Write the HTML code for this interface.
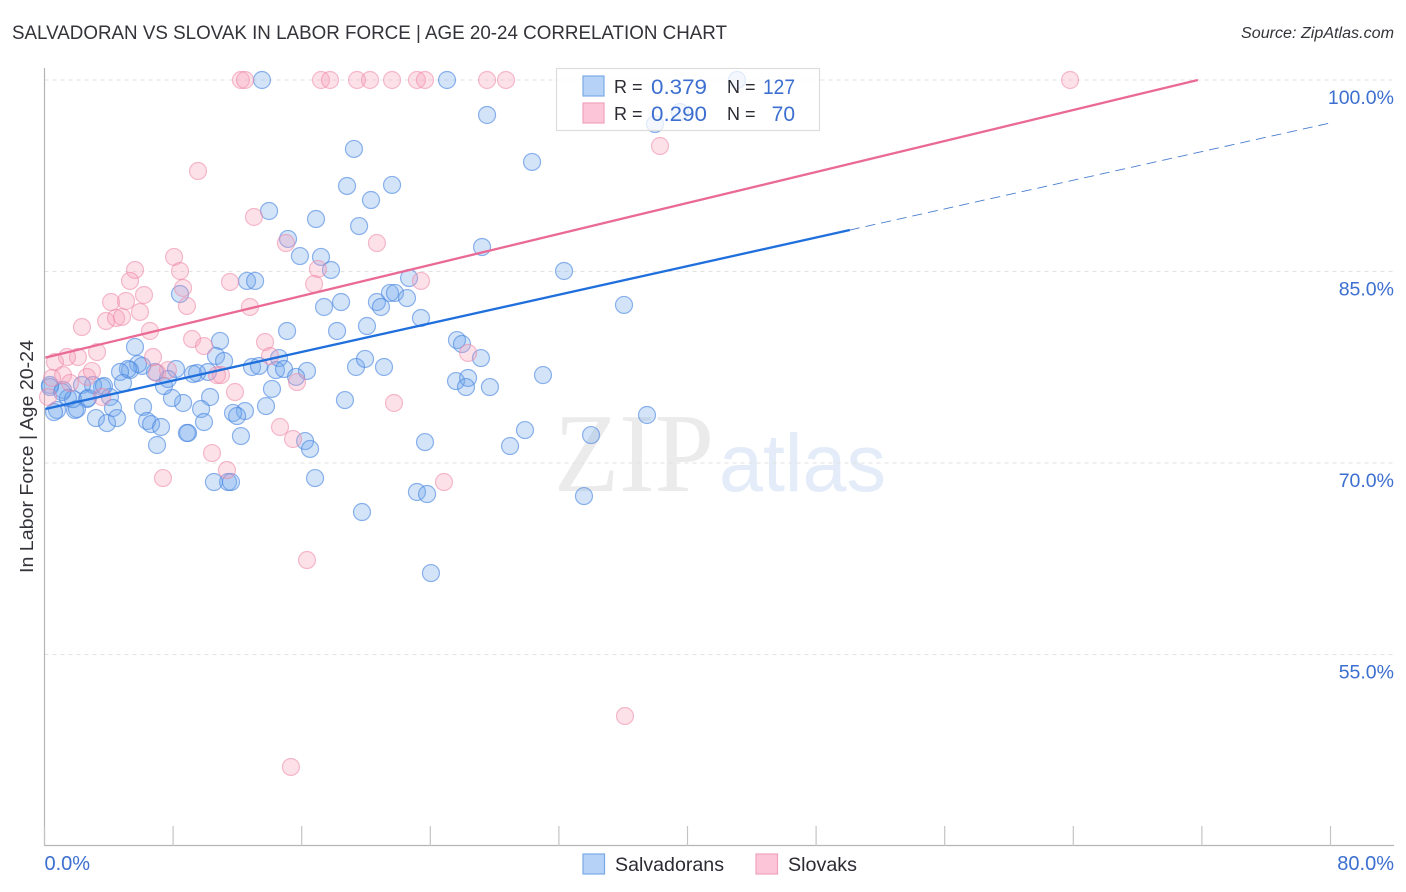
<!DOCTYPE html>
<html lang="en">
<head>
<meta charset="utf-8">
<title>Salvadoran vs Slovak in Labor Force | Age 20-24 Correlation Chart</title>
<style>
html,body{margin:0;padding:0;background:#fff;width:1406px;height:892px;overflow:hidden}
svg{display:block;font-family:"Liberation Sans",sans-serif}
</style>
</head>
<body>
<svg id="chart" width="1406" height="892" viewBox="0 0 1406 892" xmlns="http://www.w3.org/2000/svg">
  <text x="12" y="39" font-size="19.5" fill="#33333a" textLength="715" lengthAdjust="spacingAndGlyphs">SALVADORAN VS SLOVAK IN LABOR FORCE | AGE 20-24 CORRELATION CHART</text>
  <text x="1241" y="38" font-size="15.5" font-style="italic" fill="#33333a" textLength="153" lengthAdjust="spacingAndGlyphs">Source: ZipAtlas.com</text>
  <text x="554" y="491" font-family="'Liberation Serif',serif" font-size="112" fill="#ebebeb" textLength="160" lengthAdjust="spacingAndGlyphs">ZIP</text>
  <text x="719" y="491" font-size="82" fill="#e3ecf8" textLength="167" lengthAdjust="spacingAndGlyphs">atlas</text>
  <g id="grid"></g>
  <g id="axes"></g>
  <g id="points-blue"></g>
  <g id="points-pink"></g>
  <g id="trends"></g>
  <text transform="translate(33,573) rotate(-90)" font-size="18.5" fill="#33333a" textLength="233" lengthAdjust="spacingAndGlyphs">In Labor Force | Age 20-24</text>
  <g>
    <rect x="556.5" y="68.5" width="263" height="62" fill="#fff" fill-opacity="0.74" stroke="#dcdcdc" stroke-width="1.2"/>
    <rect x="583" y="76" width="21" height="20" fill="#b6d2f7" stroke="#7ba9e6" stroke-width="1.2"/>
    <rect x="583" y="103" width="21" height="20" fill="#fdc6d8" stroke="#f0a3bb" stroke-width="1.2"/>
    <text x="614" y="93" font-size="18" fill="#2b2b33">R =</text>
    <text x="651" y="94" font-size="21" fill="#3c6fd0" textLength="56" lengthAdjust="spacingAndGlyphs">0.379</text>
    <text x="727" y="93" font-size="18" fill="#2b2b33">N =</text>
    <text x="763" y="94" font-size="21" fill="#3c6fd0" textLength="32" lengthAdjust="spacingAndGlyphs">127</text>
    <text x="614" y="120" font-size="18" fill="#2b2b33">R =</text>
    <text x="651" y="121" font-size="21" fill="#3c6fd0" textLength="56" lengthAdjust="spacingAndGlyphs">0.290</text>
    <text x="727" y="120" font-size="18" fill="#2b2b33">N =</text>
    <text x="795" y="121" font-size="21" fill="#3c6fd0" text-anchor="end">70</text>
  </g>
  <g>
    <rect x="583" y="854" width="21.5" height="20" fill="#b6d2f7" stroke="#7ba9e6" stroke-width="1.2"/>
    <text x="615" y="871" font-size="19.5" fill="#2b2b33" textLength="109" lengthAdjust="spacingAndGlyphs">Salvadorans</text>
    <rect x="756" y="854" width="21.5" height="20" fill="#fdc6d8" stroke="#f0a3bb" stroke-width="1.2"/>
    <text x="788" y="871" font-size="19.5" fill="#2b2b33" textLength="69" lengthAdjust="spacingAndGlyphs">Slovaks</text>
  </g>
</svg>
<script>
var yTicks = [100, 85, 70, 55];
var yTickLabels = ["100.0%", "85.0%", "70.0%", "55.0%"];
var xTicks = [0, 8, 16, 24, 32, 40, 48, 56, 64, 72, 80];
var xEndTicks = [0, 80];
var xEndLabels = ["0.0%", "80.0%"];

var salvadoranX = [13.53,25.04,43.08,39.53,27.53,37.98,19.25,30.33,18.82,21.62,20.31,13.97,16.89,19.57,15.15,27.22,15.89,17.20,17.82,32.32,12.60,13.10,22.68,8.43,21.49,21.80,22.55,20.68,20.93,18.45,17.39,36.05,23.42,20.06,18.20,15.09,10.92,5.63,10.67,11.17,12.91,13.34,14.59,14.40,14.90,16.33,15.65,19.38,19.94,21.12,25.66,25.97,27.15,25.60,26.35,26.22,27.71,31.01,29.89,28.96,23.67,18.69,14.15,13.78,12.47,11.73,11.98,12.22,10.30,9.74,9.92,10.17,9.49,9.24,8.93,8.86,8.62,7.93,7.43,8.18,7.68,6.87,6.07,5.82,5.32,5.19,4.70,4.88,4.07,3.58,3.02,2.33,2.64,1.15,1.46,0.34,0.34,1.90,2.02,0.78,0.59,4.26,6.13,6.38,6.63,7.25,7.00,3.20,3.89,4.51,10.54,11.42,11.60,16.83,16.21,16.52,23.17,23.80,19.75,24.04,33.56,34.00,37.48,1.77,3.70,2.71,1.09];
var salvadoranY = [100,100,100,97.49,97.26,96.55,94.60,93.58,91.70,91.78,90.60,89.74,89.11,88.56,87.55,86.92,86.21,86.14,85.12,85.04,84.26,84.26,84.49,83.24,83.32,83.32,82.92,82.61,82.22,82.61,82.22,82.38,81.36,80.73,80.34,80.34,79.56,79.09,78.38,77.99,77.52,77.60,78.22,77.28,77.36,77.21,76.74,77.52,78.15,77.52,79.63,79.32,78.22,76.42,76.66,75.95,75.95,76.89,72.58,71.33,71.64,74.93,75.80,74.46,74.07,73.92,73.68,72.11,75.17,74.23,73.21,77.13,77.05,76.97,72.35,72.35,74.70,75.09,76.03,77.36,76.58,77.13,77.60,77.75,77.28,77.36,77.13,76.27,75.17,75.95,76.11,76.11,75.01,75.72,75.09,76.11,75.95,74.15,74.23,74.15,73.99,74.31,74.39,73.29,73.05,72.82,71.41,73.52,73.13,73.52,68.51,68.51,68.51,68.82,71.72,71.10,67.73,67.57,66.16,61.38,67.41,72.19,73.76,75.01,76.03,75.09,75.56];

var slovakX = [12.22,12.47,17.20,17.76,19.44,20.25,21.62,23.17,23.67,27.53,28.71,63.80,38.29,9.55,13.03,15.02,20.68,8.06,5.63,8.43,17.01,5.32,11.54,23.42,16.77,8.62,6.19,4.14,5.07,8.86,12.78,5.94,3.83,4.45,4.82,2.33,6.56,9.18,9.92,13.72,14.03,3.27,2.08,1.40,0.65,6.75,7.68,7.00,2.95,2.64,1.15,0.47,1.59,10.73,10.98,15.71,11.85,14.65,15.46,10.42,11.35,7.37,3.58,0.22,26.35,21.74,24.85,16.33,36.11,15.33];
var slovakY = [100,100,100,100,100,100,100,100,100,100,100,100,94.83,92.87,89.27,87.23,87.23,86.14,85.12,85.04,85.20,84.26,84.18,84.26,84.02,83.71,83.16,82.61,82.69,82.30,82.22,81.83,81.12,81.36,81.44,80.65,80.34,79.71,79.16,79.48,78.38,78.69,78.30,78.30,77.91,78.30,77.28,77.05,77.21,76.74,76.89,76.66,76.27,76.89,76.89,76.34,75.56,72.82,71.88,70.78,69.45,68.82,75.17,75.17,78.62,74.70,68.51,62.40,50.18,46.19];

var salvadoranTrendX = [0.05, 50.1];
var salvadoranTrendY = [74.23, 88.25];
var salvadoranProjectionX = [50.1, 80.15];
var salvadoranProjectionY = [88.25, 96.68];
var slovakTrendX = [0.05, 71.75];
var slovakTrendY = [78.25, 100];

var NS = "http://www.w3.org/2000/svg";
function xScale(v) { return 44.5 + v * (1330.5 - 44.5) / 80; }
function yScale(v) { return 80 + (100 - v) * 191.5 / 15; }
function make(tag, parent) {
  var el = document.createElementNS(NS, tag);
  document.getElementById(parent).appendChild(el);
  return el;
}

yTicks.forEach(function (t, i) {
  var g = make("line", "grid");
  
  
  g.setAttribute("x1", 44.5);
  g.setAttribute("x2", 1394);
  g.setAttribute("y1", yScale(t));
  g.setAttribute("y2", yScale(t));
  g.setAttribute("stroke", "#e2e2e2");
  g.setAttribute("stroke-width", "1");
  g.setAttribute("stroke-dasharray", "4 4");
  var l = make("text", "axes");
  
  
  l.setAttribute("x", 1394);
  l.setAttribute("y", yScale(t) + 24);
  l.setAttribute("text-anchor", "end");
  l.setAttribute("font-size", "19.5");
  l.setAttribute("fill", "#3c6fd0");
  l.textContent = yTickLabels[i];
});

var yAxis = make("line", "axes");


yAxis.setAttribute("x1", 44.5);
yAxis.setAttribute("x2", 44.5);
yAxis.setAttribute("y1", 68);
yAxis.setAttribute("y2", 846);
yAxis.setAttribute("stroke", "#b5b5b5");
yAxis.setAttribute("stroke-width", "1.2");

var xAxis = make("line", "axes");


xAxis.setAttribute("x1", 44);
xAxis.setAttribute("x2", 1394);
xAxis.setAttribute("y1", 845.5);
xAxis.setAttribute("y2", 845.5);
xAxis.setAttribute("stroke", "#b5b5b5");
xAxis.setAttribute("stroke-width", "1.2");

xTicks.forEach(function (t) {
  var k = make("line", "axes");
  
  
  k.setAttribute("x1", xScale(t));
  k.setAttribute("x2", xScale(t));
  k.setAttribute("y1", 826);
  k.setAttribute("y2", 846);
  k.setAttribute("stroke", "#c4c4c4");
  k.setAttribute("stroke-width", "1.2");
});

xEndTicks.forEach(function (t, i) {
  var l = make("text", "axes");
  
  
  l.setAttribute("x", i === 0 ? xScale(t) : 1394);
  l.setAttribute("y", 870);
  l.setAttribute("text-anchor", i === 0 ? "start" : "end");
  l.setAttribute("font-size", "20");
  l.setAttribute("fill", "#3c6fd0");
  l.textContent = xEndLabels[i];
});

salvadoranX.forEach(function (v, i) {
  var c = make("circle", "points-blue");
  
  
  c.setAttribute("cx", xScale(v));
  c.setAttribute("cy", yScale(salvadoranY[i]));
  c.setAttribute("r", "8.5");
  c.setAttribute("fill", "#6ea6ec");
  c.setAttribute("fill-opacity", "0.3");
  c.setAttribute("stroke", "#4a86e0");
  c.setAttribute("stroke-opacity", "0.62");
  c.setAttribute("stroke-width", "1.2");
});

slovakX.forEach(function (v, i) {
  var c = make("circle", "points-pink");
  
  
  c.setAttribute("cx", xScale(v));
  c.setAttribute("cy", yScale(slovakY[i]));
  c.setAttribute("r", "8.5");
  c.setAttribute("fill", "#f79ab5");
  c.setAttribute("fill-opacity", "0.3");
  c.setAttribute("stroke", "#ec86a6");
  c.setAttribute("stroke-opacity", "0.55");
  c.setAttribute("stroke-width", "1.2");
});

var trendBlue = make("line", "trends");


trendBlue.setAttribute("x1", xScale(salvadoranTrendX[0]));
trendBlue.setAttribute("y1", yScale(salvadoranTrendY[0]));
trendBlue.setAttribute("x2", xScale(salvadoranTrendX[1]));
trendBlue.setAttribute("y2", yScale(salvadoranTrendY[1]));
trendBlue.setAttribute("stroke", "#1f6fdc");
trendBlue.setAttribute("stroke-width", "2.3");

var trendDash = make("line", "trends");


trendDash.setAttribute("x1", xScale(salvadoranProjectionX[0]));
trendDash.setAttribute("y1", yScale(salvadoranProjectionY[0]));
trendDash.setAttribute("x2", xScale(salvadoranProjectionX[1]));
trendDash.setAttribute("y2", yScale(salvadoranProjectionY[1]));
trendDash.setAttribute("stroke", "#4a7fd0");
trendDash.setAttribute("stroke-width", "0.9");
trendDash.setAttribute("stroke-dasharray", "10 6");

var trendPink = make("line", "trends");


trendPink.setAttribute("x1", xScale(slovakTrendX[0]));
trendPink.setAttribute("y1", yScale(slovakTrendY[0]));
trendPink.setAttribute("x2", xScale(slovakTrendX[1]));
trendPink.setAttribute("y2", yScale(slovakTrendY[1]));
trendPink.setAttribute("stroke", "#ea6a96");
trendPink.setAttribute("stroke-width", "2.3");
</script>
</body>
</html>
